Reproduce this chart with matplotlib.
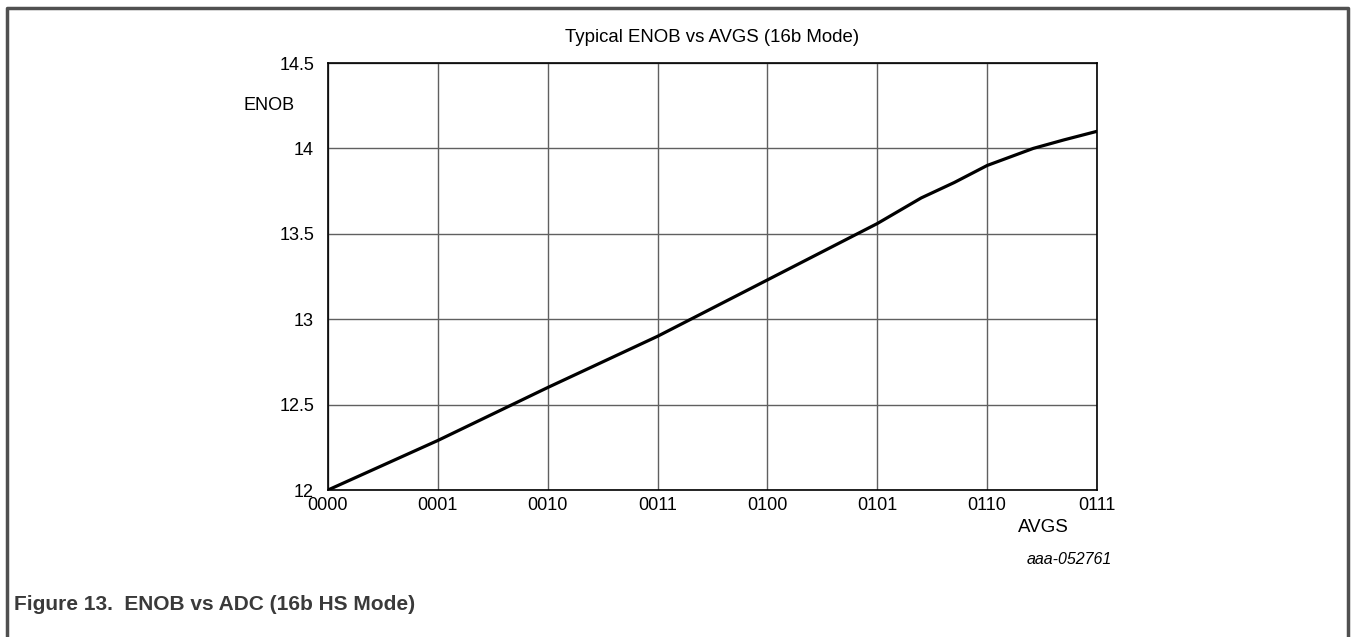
import matplotlib
matplotlib.use("Agg")
import matplotlib.pyplot as plt
from matplotlib.lines import Line2D

plt.rcParams['font.family'] = ['Liberation Sans', 'DejaVu Sans']

# Data
x_ticklabels = ["0000", "0001", "0010", "0011", "0100", "0101", "0110", "0111"]
avgs_pos = [0, 1, 2, 3, 4, 5, 5.4, 5.7, 6, 6.42, 6.7, 7]
enob = [12.0, 12.29, 12.60, 12.90, 13.23, 13.56, 13.71, 13.80, 13.90, 14.0, 14.05, 14.10]
y_ticks = [12, 12.5, 13, 13.5, 14, 14.5]
y_ticklabels = ["12", "12.5", "13", "13.5", "14", "14.5"]

W, H = 1354, 637
fig = plt.figure(figsize=(W / 100, H / 100), dpi=100)

ax = fig.add_axes([328 / W, 1 - 490 / H, (1097 - 328) / W, (490 - 63) / H])
ax.plot(avgs_pos, enob, color="black", lw=2.3, solid_capstyle="round", zorder=3)
ax.set_xlim(0, 7)
ax.set_ylim(12, 14.5)
ax.set_xticks(range(len(x_ticklabels)))
ax.set_xticklabels(x_ticklabels)
ax.set_yticks(y_ticks)
ax.set_yticklabels(y_ticklabels)
ax.tick_params(axis="both", length=0, labelsize=13, colors="black")
ax.tick_params(axis="x", pad=5)
ax.tick_params(axis="y", pad=10)
ax.grid(True, color="#606060", lw=1.0)
for s in ax.spines.values():
    s.set_color("black")
    s.set_linewidth(1.2)

fig.text(712 / W, 1 - 38 / H, "Typical ENOB vs AVGS (16b Mode)", ha="center", va="center", fontsize=13.4)
fig.text(269 / W, 1 - 106 / H, "ENOB", ha="center", va="center", fontsize=13)
fig.text(1043 / W, 1 - 528 / H, "AVGS", ha="center", va="center", fontsize=13.5)
fig.text(1112 / W, 1 - 560 / H, "aaa-052761", ha="right", va="center", fontsize=11.5, style="italic")
fig.text(14 / W, 1 - 604 / H, "Figure 13.  ENOB vs ADC (16b HS Mode)", ha="left", va="center",
         fontsize=15, fontweight="bold", color="#3a3a3a")

# outer frame (open at bottom)
fx = lambda p: p / W
fy = lambda p: 1 - p / H
frame = Line2D([fx(7), fx(7), fx(1348), fx(1348)], [0, fy(8), fy(8), 0],
               transform=fig.transFigure, color="#505050", lw=2.5)
fig.add_artist(frame)

fig.savefig("out.png", dpi=100)
